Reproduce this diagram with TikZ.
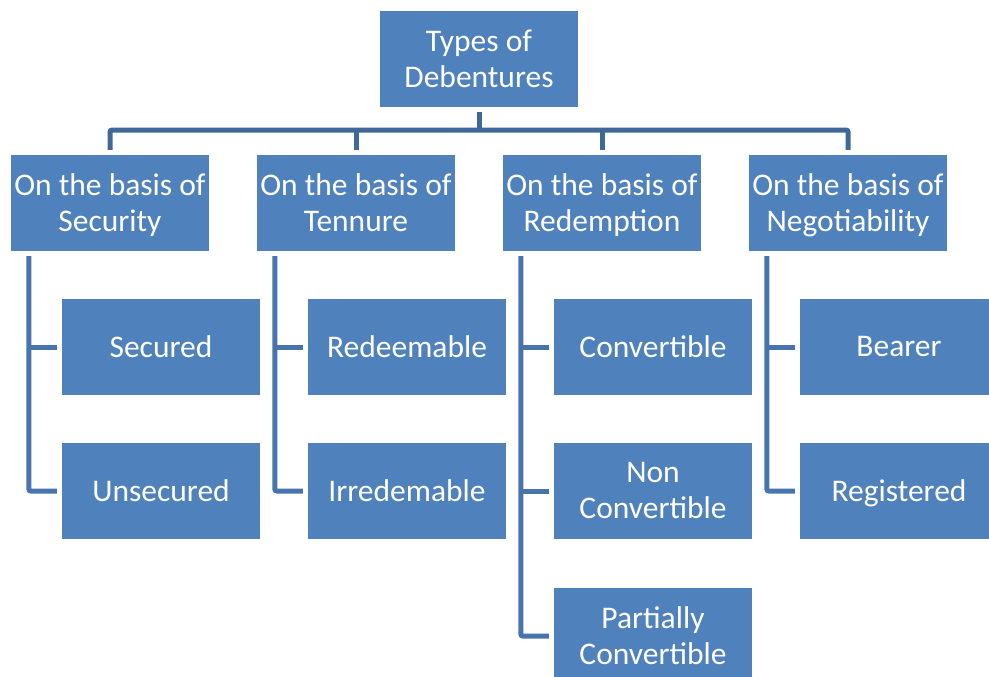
\documentclass[tikz,border=0pt]{standalone}
\usepackage{fontspec}
\setmainfont{Carlito}
\definecolor{boxblue}{HTML}{4F81BD}
\definecolor{busblue}{HTML}{3F6899}
\definecolor{linkblue}{HTML}{4874AD}

\begin{document}
\begin{tikzpicture}[x=1pt, y=-1pt,
    box/.style={fill=boxblue, text=white, minimum width=198pt, minimum height=96pt,
      inner sep=0pt, text depth=1pt, align=center, font=\fontsize{31.5}{36}\selectfont},
    bus/.style={draw=busblue, line width=5pt, rounded corners=2pt},
    link/.style={draw=linkblue, line width=5pt, rounded corners=2pt}]
  \useasboundingbox (0,0) rectangle (989,677);
  \clip (0,0) rectangle (989,677);

  % Nodes
  \node[box] (top) at (479,59) {Types of\\Debentures};

  \node[box] (sec) at (110,203) {On the basis of\\Security};
  \node[box] (ten) at (356,203) {On the basis of\\Tennure};
  \node[box] (red) at (602,203) {On the basis of\\Redemption};
  \node[box] (neg) at (848,203) {On the basis of\\Negotiability};

  \node[box] (secd)  at (161,347) {Secured};
  \node[box] (unsec) at (161,491) {Unsecured};
  \node[box] (redm)  at (407,347) {Redeemable};
  \node[box] (irred) at (407,491) {Irredemable};
  \node[box] (conv)  at (653,347) {Convertible};
  \node[box] (nconv) at (653,491) {Non\\Convertible};
  \node[box] (pconv) at (653,636) {Partially\\Convertible};
  \node[box] (bear)  at (899,347) {Bearer};
  \node[box] (regd)  at (899,491) {Registered};

  % Arrows
  \coordinate (bus) at (479,130);
  \draw[bus] ([yshift=-5pt]top.south) -- (bus);
  \draw[bus] ([yshift=5pt]sec.north) |- (bus) -| ([yshift=5pt]neg.north);
  \foreach \n in {ten,red}
    \draw[bus] ([yshift=5pt]\n.north) -- (\n.north |- bus);

  \foreach \p/\a/\b in {sec/secd/unsec, ten/redm/irred, neg/bear/regd} {
    \coordinate (\p-l) at ([xshift=18pt,yshift=-5pt]\p.south west);
    \draw[link] (\p-l) |- ([xshift=-5pt]\b.west);
    \draw[link] (\p-l |- \a.west) -- ([xshift=-5pt]\a.west);
  }
  \coordinate (red-l) at ([xshift=18pt,yshift=-5pt]red.south west);
  \draw[link] (red-l) |- ([xshift=-5pt]pconv.west);
  \foreach \a in {conv,nconv}
    \draw[link] (red-l |- \a.west) -- ([xshift=-5pt]\a.west);
\end{tikzpicture}
\end{document}
